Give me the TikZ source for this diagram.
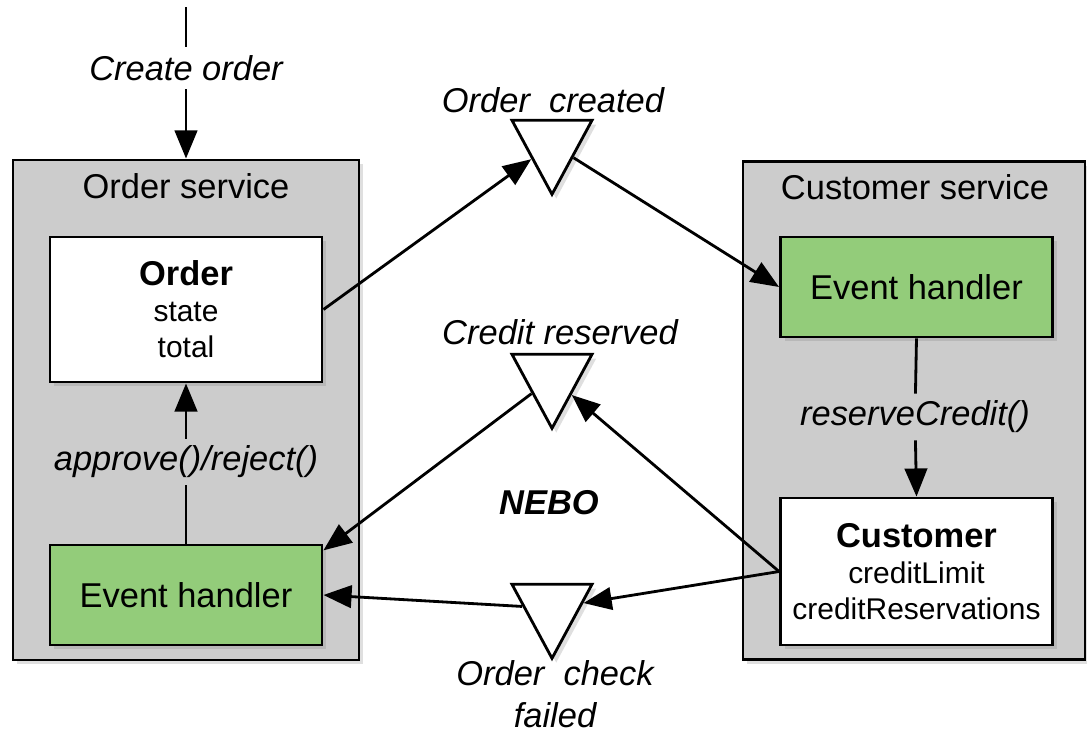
\documentclass[tikz,border=0pt]{standalone}
\usepackage{fontspec}
\setmainfont{Liberation Sans}
\usetikzlibrary{shapes}
\usetikzlibrary{arrows.meta}
\usetikzlibrary{shadows}

\definecolor{svcgray}{RGB}{204,204,204}
\definecolor{handlergreen}{RGB}{147,204,122}

\begin{document}
\begin{tikzpicture}[x=0.025cm,y=-0.025cm]
			\tikzstyle{shade}=[drop shadow={shadow xshift=3pt,shadow yshift=-3pt,opacity=0.25}]
			\tikzstyle{service}=[rectangle,draw,line width=2pt,fill=svcgray,shade]
			\tikzstyle{svctitle}=[font=\fontsize{24.5}{28}\selectfont]
			\tikzstyle{entity}=[rectangle,draw,line width=2pt,fill=white,shade,minimum width=6.8cm,align=center,font=\fontsize{21.3}{25.5}\selectfont]
			\tikzstyle{handler}=[entity,fill=handlergreen,minimum height=2.5cm,font=\fontsize{24.5}{28}\selectfont]
			\tikzstyle{event}=[isosceles triangle,isosceles triangle stretches,shape border rotate=270,draw,line width=2pt,fill=white,shade,minimum width=2cm,minimum height=1.85cm,inner sep=0pt]
			\tikzstyle{evlabel}=[font=\fontsize{24.5}{30}\selectfont\itshape,align=center,inner sep=2pt]
			\tikzstyle{flow}=[line width=2pt,-{Triangle[length=20pt,width=16pt]}]
			\tikzstyle{plain}=[line width=2pt]

			\useasboundingbox (0,0) rectangle (1087,733);

			\node[service,minimum width=8.65cm,minimum height=12.5cm] (ordersvc) at (186,410) {};
			\node[service,minimum width=8.55cm,minimum height=12.45cm] (custsvc) at (914,410.5) {};
			\node[svctitle] (ordersvctitle) at (186,186) {Order service};
			\node[svctitle] (custsvctitle) at (915,187) {Customer service};

			\node[entity,minimum height=3.625cm] (order) at (186,309.5) {{\fontsize{24.5}{28}\selectfont\bfseries Order}\\state\\total};
			\node[handler] (orderhandler) at (186,595) {Event handler};
			\node[handler] (custhandler) at (916.5,287) {Event handler};
			\node[entity,minimum height=3.675cm] (customer) at (916.5,571.5) {{\fontsize{24.5}{28}\selectfont\bfseries Customer}\\creditLimit\\creditReservations};

			\node[event,anchor=apex] (created) at (552,198) {};
			\node[event,anchor=apex] (reserved) at (552,432) {};
			\node[event,anchor=apex] (failed) at (552,662) {};
			\node[evlabel] (createdlbl) at (553,100) {Order\ \ created};
			\node[evlabel] (reservedlbl) at (560,332) {Credit reserved};
			\node[evlabel] (failedlbl) at (555,694) {Order\ \ check\\failed};
			\node[font=\fontsize{24.5}{28}\selectfont\bfseries\itshape] (nebo) at (549,503) {NEBO};

			\coordinate (entry) at (186,7);
			\node[evlabel,inner sep=6pt] (createlbl) at (186,68) {Create order};
			\node[evlabel,inner sep=5pt] (approvelbl) at (186,462) {approve()/reject()};
			\node[evlabel,inner sep=5pt] (reservelbl) at (915,417) {reserveCredit()};

			\draw[plain] (entry) -- (createlbl);
			\draw[flow] (createlbl) -- (ordersvc.north);
			\draw[plain] (orderhandler.north) -- (approvelbl);
			\draw[flow] (approvelbl) -- (order.south);
			\draw[plain] (custhandler.south) -- (reservelbl);
			\draw[flow] (reservelbl) -- (customer.north);

			\draw[flow] (order.east) -- (created);
			\draw[flow] (created) -- (custhandler.west);
			\draw[flow] (reserved) -- (orderhandler.18);
			\draw[flow] (customer.west) -- (reserved);
			\draw[flow] (customer.west) -- (failed);
			\draw[flow] (failed) -- (orderhandler.east);
\end{tikzpicture}
\end{document}
